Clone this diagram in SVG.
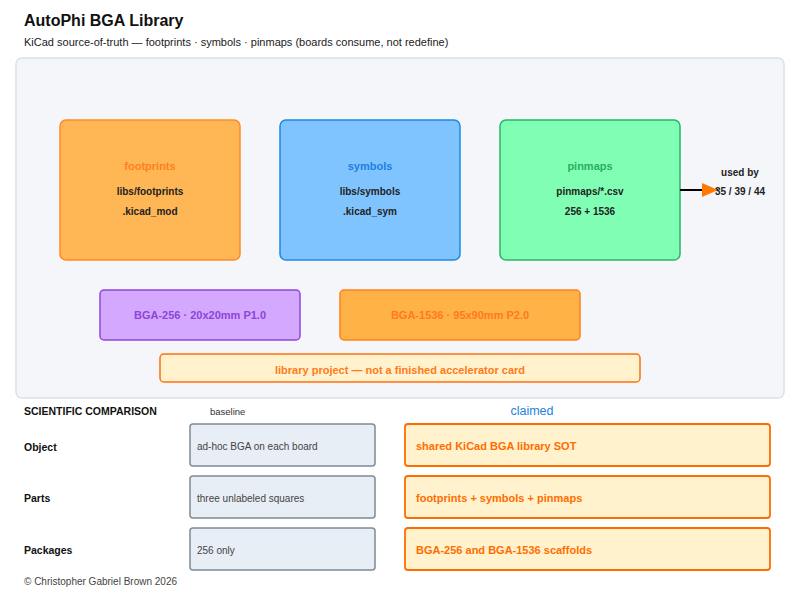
<svg xmlns="http://www.w3.org/2000/svg" width="800" height="600" viewBox="0 0 800 600">
<style>
text{font-family:"Liberation Sans",Arial,sans-serif}
.t{font-size:16px;font-weight:bold;fill:#111}
.sub{font-size:11px;fill:#222}
.nt{font-size:11px;font-weight:bold;text-anchor:middle}
.nl{font-size:10px;font-weight:bold;fill:#222;text-anchor:middle}
.lbl{font-size:10.5px;font-weight:bold;fill:#111}
.base{fill:#e8eef5;stroke:#7f8b96;stroke-width:1.5}
.claim{fill:#fff2cc;stroke:#ff6d00;stroke-width:1.8}
.bt{font-size:10px;fill:#444}
.ct{font-size:11px;font-weight:bold;fill:#ff6d00}
</style>
<defs>
<marker id="ah" viewBox="0 0 16 14" refX="16" refY="7" markerWidth="16" markerHeight="14" markerUnits="userSpaceOnUse" orient="auto">
<path d="M0,0 L16,7 L0,14 z" fill="#ff7a00"/>
</marker>
</defs>
<rect width="800" height="600" fill="#fff"/>
<text class="t" x="24" y="26">AutoPhi BGA Library</text>
<text class="sub" x="24" y="46">KiCad source-of-truth — footprints · symbols · pinmaps (boards consume, not redefine)</text>
<rect x="16" y="58" width="768" height="340" rx="6" fill="#f4f6f9" stroke="#d9e1ea" stroke-width="1.5"/>
<g id="footprints">
<rect x="60" y="120" width="180" height="140" rx="6" fill="#ffb755" stroke="#ff8a28" stroke-width="1.5"/>
<text class="nt" x="150" y="170" fill="#ff7f1e">footprints</text>
<text class="nl" x="150" y="195">libs/footprints</text>
<text class="nl" x="150" y="215">.kicad_mod</text>
</g>
<g id="symbols">
<rect x="280" y="120" width="180" height="140" rx="6" fill="#80c4ff" stroke="#1e88e5" stroke-width="1.5"/>
<text class="nt" x="370" y="170" fill="#1e7fe0">symbols</text>
<text class="nl" x="370" y="195">libs/symbols</text>
<text class="nl" x="370" y="215">.kicad_sym</text>
</g>
<g id="pinmaps">
<rect x="500" y="120" width="180" height="140" rx="6" fill="#80ffb4" stroke="#2bb36a" stroke-width="1.5"/>
<text class="nt" x="590" y="170" fill="#27ae60">pinmaps</text>
<text class="nl" x="590" y="195">pinmaps/*.csv</text>
<text class="nl" x="590" y="215">256 + 1536</text>
</g>
<g id="connectors">
<line x1="680" y1="190" x2="718" y2="190" stroke="#000" stroke-width="2" marker-end="url(#ah)"/>
</g>
<g id="usedby">
<text class="nl" x="740" y="176" fill="#111">used by</text>
<text class="nl" x="740" y="195" fill="#111">35 / 39 / 44</text>
</g>
<g id="bga256">
<rect x="100" y="290" width="200" height="50" rx="4" fill="#d4a8ff" stroke="#8e44e0" stroke-width="1.5"/>
<text class="nt" x="200" y="319" fill="#8e44d8">BGA-256 · 20x20mm P1.0</text>
</g>
<g id="bga1536">
<rect x="340" y="290" width="240" height="50" rx="4" fill="#ffb347" stroke="#ff8020" stroke-width="1.5"/>
<text class="nt" x="460" y="319" fill="#ff7a1a">BGA-1536 · 95x90mm P2.0</text>
</g>
<g id="note">
<rect x="160" y="354" width="480" height="28" rx="4" fill="#fff2cc" stroke="#ff7010" stroke-width="1.5"/>
<text class="nt" x="400" y="374" fill="#ff7a1a">library project — not a finished accelerator card</text>
</g>
<g id="comparison">
<text class="lbl" x="24" y="415">SCIENTIFIC COMPARISON</text>
<text x="210" y="415" font-size="9.5" fill="#333">baseline</text>
<text x="532" y="415" font-size="12.5" fill="#1e7fe0" text-anchor="middle">claimed</text>
<g id="row-object">
<text class="lbl" x="24" y="451">Object</text>
<rect class="base" x="190" y="424" width="185" height="42" rx="3"/>
<text class="bt" x="197" y="450">ad-hoc BGA on each board</text>
<rect class="claim" x="405" y="424" width="365" height="42" rx="3"/>
<text class="ct" x="416" y="450">shared KiCad BGA library SOT</text>
</g>
<g id="row-parts">
<text class="lbl" x="24" y="502">Parts</text>
<rect class="base" x="190" y="476" width="185" height="42" rx="3"/>
<text class="bt" x="197" y="502">three unlabeled squares</text>
<rect class="claim" x="405" y="476" width="365" height="42" rx="3"/>
<text class="ct" x="416" y="502">footprints + symbols + pinmaps</text>
</g>
<g id="row-packages">
<text class="lbl" x="24" y="554">Packages</text>
<rect class="base" x="190" y="528" width="185" height="42" rx="3"/>
<text class="bt" x="197" y="554">256 only</text>
<rect class="claim" x="405" y="528" width="365" height="42" rx="3"/>
<text class="ct" x="416" y="554">BGA-256 and BGA-1536 scaffolds</text>
</g>
</g>
<text x="24" y="585" font-size="10" fill="#444">© Christopher Gabriel Brown 2026</text>
</svg>
